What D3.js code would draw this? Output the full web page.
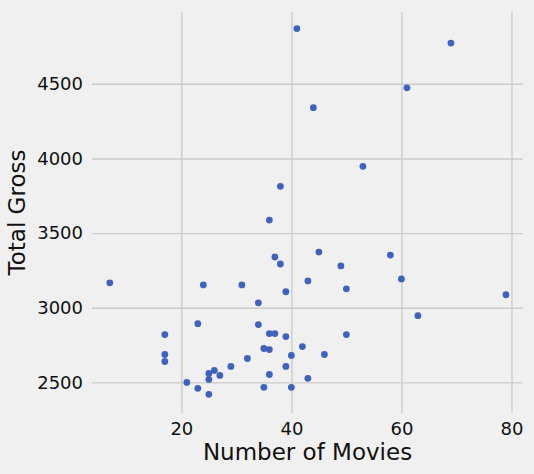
<!DOCTYPE html>
<html>
<head>
<meta charset="utf-8">
<script src="https://cdn.jsdelivr.net/npm/d3@7"></script>
<style>
  body { margin: 0; background: #f0f0f0; }
  svg { display: block; }
  svg text { font-family: "DejaVu Sans", "Noto Sans", sans-serif; }
</style>
</head>
<body>
<svg id="chart"></svg>
<script>
// number of movies per actor
const movies = [41, 38, 69, 61, 44, 53, 36, 37, 38, 7,
  24, 31, 39, 43, 34, 23, 34, 17, 36, 37,
  39, 42, 35, 36, 17, 17, 40, 32, 29, 39,
  26, 25, 27, 25, 36, 43, 21, 23, 25, 35,
  40, 45, 58, 49, 60, 50, 79, 63, 50, 46];
// total gross
const gross = [4870, 3813, 4773, 4473, 4340, 3947, 3587, 3340, 3293, 3167,
  3153, 3153, 3107, 3180, 3033, 2893, 2887, 2820, 2827, 2827,
  2807, 2740, 2727, 2720, 2687, 2640, 2680, 2660, 2607, 2607,
  2580, 2560, 2547, 2520, 2553, 2527, 2500, 2460, 2420, 2467,
  2467, 3373, 3353, 3280, 3193, 3127, 3087, 2947, 2820, 2687];
const xTicks = [20, 40, 60, 80];
const yTicks = [2500, 3000, 3500, 4000, 4500];

const W = 534, H = 474;
const margin = { top: 12, right: 11, bottom: 61, left: 92 };
const width = W - margin.left - margin.right;
const height = H - margin.top - margin.bottom;

const svg = d3.select('#chart').attr('width', W).attr('height', H);
const g = svg.append('g').attr('transform', `translate(${margin.left},${margin.top})`);

const x = d3.scaleLinear().domain([3.76, 82.1]).range([0, width]);
const y = d3.scaleLinear().domain([2295, 4981]).range([height, 0]);

// grid + tick labels
const xAxis = g.append('g')
  .call(d3.axisBottom(x).tickValues(xTicks).tickSize(height).tickPadding(0).tickFormat(d3.format('d')));
const yAxis = g.append('g')
  .call(d3.axisLeft(y).tickValues(yTicks).tickSize(-width).tickPadding(9).tickFormat(d3.format('d')));

[xAxis, yAxis].forEach(a => {
  a.attr('font-family', null).attr('font-size', null);
  a.select('.domain').remove();
  a.selectAll('line').attr('stroke', '#cbcbcb').attr('stroke-width', 1.4);
  a.selectAll('text').attr('fill', '#111').style('font-size', '18px');
});
xAxis.selectAll('text').attr('y', height + 9).attr('dy', '0.71em');

// points
g.selectAll('circle')
  .data(movies.map((m, i) => ({ m, v: gross[i] })))
  .enter().append('circle')
  .attr('cx', d => x(d.m))
  .attr('cy', d => y(d.v))
  .attr('r', 3.4)
  .attr('fill', '#4062bf');

// axis labels
svg.append('text')
  .attr('x', margin.left + width / 2)
  .attr('y', 460)
  .attr('text-anchor', 'middle')
  .style('font-size', '23px')
  .attr('fill', '#111')
  .text('Number of Movies');

svg.append('text')
  .attr('transform', `translate(25,${margin.top + height / 2}) rotate(-90)`)
  .attr('text-anchor', 'middle')
  .style('font-size', '23px')
  .attr('fill', '#111')
  .text('Total Gross');
</script>
</body>
</html>
